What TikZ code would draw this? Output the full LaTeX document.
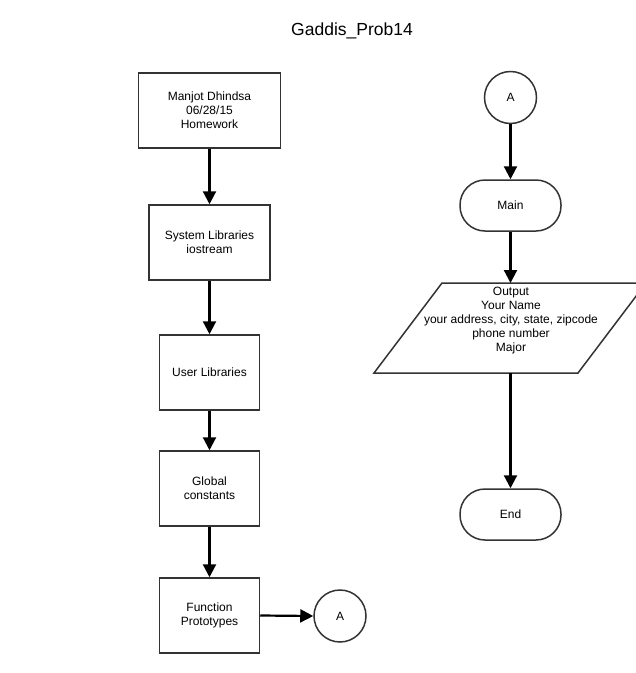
\documentclass[tikz,border=0pt]{standalone}
\usepackage{fontspec}
\setmainfont{Liberation Sans}
\usetikzlibrary{arrows.meta}
\begin{document}
\begin{tikzpicture}[x=1pt,y=-1pt,
  txt/.style={font=\fontsize{12}{14.2}\selectfont, align=center, inner sep=0pt},
  box/.style={txt, draw=black!80, line width=1.5pt, minimum height=75pt},
  term/.style={txt, draw=black!80, line width=1.5pt, rounded corners=25pt, minimum width=101pt, minimum height=51pt},
  conn/.style={txt, draw=black!80, line width=1.5pt, circle, minimum size=52pt},
  flow/.style={-{Triangle[length=13pt,width=13pt]}, line width=2.2pt}
]
\useasboundingbox (0,0) rectangle (636,673);
\fill[white] (0,0) rectangle (636,673);
\node[font=\fontsize{17.5}{20}\selectfont, inner sep=0pt] (title) at (352,31) {Gaddis\_Prob14};
% left column
\node[box, minimum width=142pt] (b1) at (209.5,110.5) {Manjot Dhindsa\\06/28/15\\Homework};
\node[box, minimum width=121pt] (b2) at (209.5,242.5) {System Libraries\\iostream};
\node[box, minimum width=100pt] (b3) at (209.5,372.5) {User Libraries};
\node[box, minimum width=100pt] (b4) at (209.5,488.5) {Global\\constants};
\node[box, minimum width=100pt] (b5) at (209.5,615.5) {Function\\Prototypes};
\node[conn] (a1) at (340,616) {A};
% right column
\node[conn] (a2) at (510.5,97.5) {A};
\node[term] (main) at (510.5,205.5) {Main};
\draw[draw=black!80, line width=1.5pt] (442,283) -- (646,283) -- (578,373) -- (374,373) -- cycle;
\node[txt] (out) at (511,320.5) {Output\\Your Name\\your address, city, state, zipcode\\phone number\\Major};
\coordinate (outtop) at (510.5,283);
\coordinate (outbot) at (510.5,373);
\node[term] (end) at (510.5,514.5) {End};
% connectors
\draw[flow] (b1.south) -- (b2.north);
\draw[flow] (b2.south) -- (b3.north);
\draw[flow] (b3.south) -- (b4.north);
\draw[flow] (b4.south) -- (b5.north);
\draw[flow] (b5.east) -- (a1.west);
\draw[flow] (a2.south) -- (main.north);
\draw[flow] (main.south) -- (outtop);
\draw[flow] (outbot) -- (end.north);
\end{tikzpicture}
\end{document}
